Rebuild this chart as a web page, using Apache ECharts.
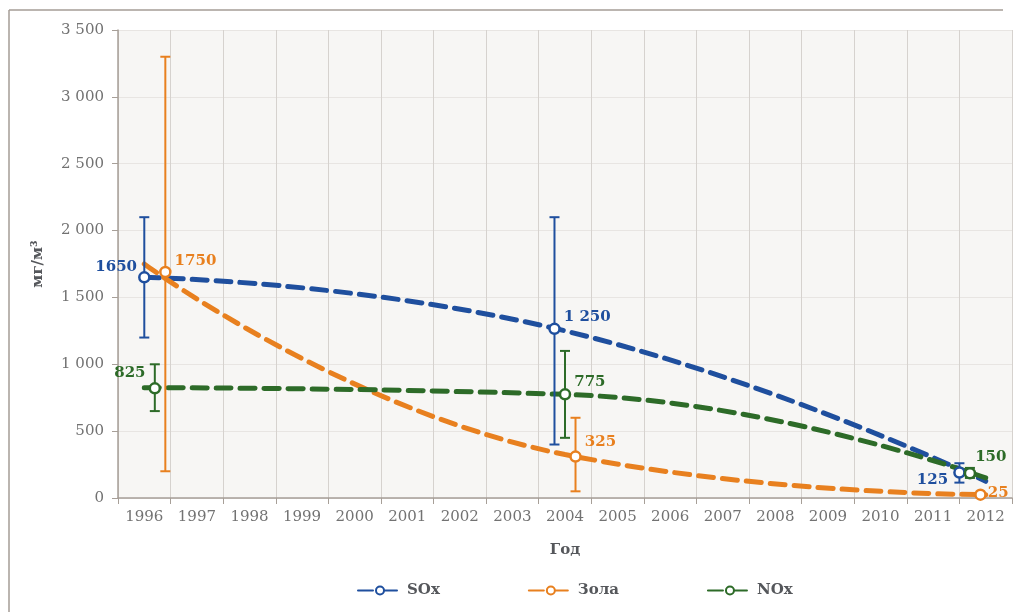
<!DOCTYPE html>
<html>
<head>
<meta charset="utf-8">
<script src="https://cdn.jsdelivr.net/npm/echarts@6/dist/echarts.min.js"></script>
<style>
  html, body { margin: 0; padding: 0; background: #fff; }
  #main { width: 1017px; height: 612px; }
</style>
</head>
<body>
<div id="main"></div>
<script>
// годы по оси X
var years = ["1996", "1997", "1998", "1999", "2000", "2001", "2002", "2003", "2004",
  "2005", "2006", "2007", "2008", "2009", "2010", "2011", "2012"];
var yTicks = [0, 500, 1000, 1500, 2000, 2500, 3000, 3500];

// линии (центры категорий)
var lineYears = [1996, 2004, 2012];
var soxLine = [1650, 1250, 125];
var zolaLine = [1750, 325, 25];
var noxLine = [825, 775, 150];

// маркеры с погрешностями (смещены внутри категории)
var soxX = [1996.0, 2003.8, 2011.5];
var soxY = [1650, 1265, 190];
var soxLow = [1200, 400, 115];
var soxHigh = [2100, 2100, 260];

var zolaX = [1996.4, 2004.2, 2011.9];
var zolaY = [1690, 310, 25];
var zolaLow = [200, 50, 15];
var zolaHigh = [3300, 600, 35];

var noxX = [1996.2, 2004.0, 2011.7];
var noxY = [820, 775, 185];
var noxLow = [650, 450, 150];
var noxHigh = [1000, 1100, 225];

var soxText = ["1650", "1 250", "125"];
var zolaText = ["1750", "325", "25"];
var noxText = ["825", "775", "150"];

var C_SOX = "#1f4f9e";
var C_ZOLA = "#e8801f";
var C_NOX = "#2d6b28";
var FONT = "DejaVu Serif";

function fmt(v) {
  return String(v).replace(/\B(?=(\d{3})+(?!\d))/g, " ");
}

function pairs(xs, ys) {
  return xs.map(function (x, i) { return [x, ys[i]]; });
}

function lineSeries(name, color, ys) {
  return {
    name: name,
    type: "line",
    xAxisIndex: 1,
    smooth: 0.5,
    symbol: "emptyCircle",
    symbolSize: 9,
    showSymbol: false,
    silent: true,
    z: 2,
    itemStyle: { color: color, borderWidth: 2.5 },
    lineStyle: { color: color, width: 5, type: [15, 9], cap: "round" },
    data: pairs(lineYears, ys),
  };
}

function errSeries(color, xs, lows, highs) {
  return {
    type: "custom",
    xAxisIndex: 1,
    silent: true,
    z: 3,
    data: xs.map(function (x, i) { return [x, lows[i], highs[i]]; }),
    renderItem: function (params, api) {
      var lo = api.coord([api.value(0), api.value(1)]);
      var hi = api.coord([api.value(0), api.value(2)]);
      var w = 5;
      var st = { stroke: color, lineWidth: 2 };
      return {
        type: "group",
        children: [
          { type: "line", shape: { x1: lo[0], y1: lo[1], x2: hi[0], y2: hi[1] }, style: st },
          { type: "line", shape: { x1: lo[0] - w, y1: lo[1], x2: lo[0] + w, y2: lo[1] }, style: st },
          { type: "line", shape: { x1: hi[0] - w, y1: hi[1], x2: hi[0] + w, y2: hi[1] }, style: st },
        ],
      };
    },
  };
}

function markSeries(color, xs, ys, texts, labelCfg) {
  return {
    type: "scatter",
    xAxisIndex: 1,
    symbol: "circle",
    symbolSize: 10,
    silent: true,
    z: 4,
    itemStyle: { color: "#ffffff", borderColor: color, borderWidth: 2.5, opacity: 1 },
    data: xs.map(function (x, i) {
      return {
        value: [x, ys[i]],
        label: {
          show: true,
          formatter: texts[i],
          position: labelCfg[i].pos,
          offset: labelCfg[i].off,
          color: color,
          fontFamily: FONT,
          fontWeight: "bold",
          fontSize: 15,
          distance: 3,
        },
      };
    }),
  };
}

var chart = echarts.init(document.getElementById("main"));
chart.setOption({
  backgroundColor: "#fff",
  animation: false,
  grid: {
    left: 118,
    right: 5,
    top: 30,
    bottom: 114,
    show: true,
    backgroundColor: "#f7f6f4",
    borderWidth: 0,
  },
  graphic: [
    { type: "line", shape: { x1: 9, y1: 10, x2: 1003, y2: 10 }, style: { stroke: "#a59d96", lineWidth: 1.5 } },
    { type: "line", shape: { x1: 9, y1: 10, x2: 9, y2: 612 }, style: { stroke: "#a59d96", lineWidth: 1.5 } },
  ],
  legend: {
    left: 352,
    top: 578,
    itemGap: 88,
    itemWidth: 44,
    itemHeight: 10,
    textStyle: { fontFamily: FONT, fontWeight: "bold", fontSize: 15, color: "#55575b" },
    data: ["SOx", "Зола", "NOx"],
  },
  xAxis: [
    {
      type: "category",
      data: years,
      boundaryGap: true,
      name: "Год",
      nameLocation: "middle",
      nameGap: 45,
      nameTextStyle: { fontFamily: FONT, fontWeight: "bold", fontSize: 15, color: "#55575b" },
      axisLine: { lineStyle: { color: "#a79f98", width: 1.5 } },
      axisTick: { show: true, interval: 0, length: 6, lineStyle: { color: "#a79f98" } },
      axisLabel: { interval: 0, fontFamily: FONT, fontSize: 15, color: "#727272", margin: 12 },
      splitLine: { show: true, interval: 0, lineStyle: { color: "#d6d2ce", width: 1 } },
    },
    {
      type: "value",
      min: 1995.5,
      max: 2012.5,
      show: false,
      splitLine: { show: false },
    },
  ],
  yAxis: {
    type: "value",
    min: 0,
    max: 3500,
    interval: 500,
    name: "мг/м³",
    nameLocation: "middle",
    nameGap: 72,
    nameRotate: 90,
    nameTextStyle: { fontFamily: FONT, fontWeight: "bold", fontSize: 15, color: "#55575b" },
    axisLine: { show: true, lineStyle: { color: "#a79f98", width: 1.5 } },
    axisTick: { show: true, length: 6, lineStyle: { color: "#a79f98" } },
    axisLabel: {
      fontFamily: FONT,
      fontSize: 15,
      color: "#727272",
      margin: 14,
      formatter: function (v) { return yTicks.indexOf(v) >= 0 ? fmt(v) : ""; },
    },
    splitLine: { show: true, lineStyle: { color: "#e8e5e2", width: 1 } },
  },
  series: [
    lineSeries("SOx", C_SOX, soxLine),
    lineSeries("Зола", C_ZOLA, zolaLine),
    lineSeries("NOx", C_NOX, noxLine),
    errSeries(C_SOX, soxX, soxLow, soxHigh),
    errSeries(C_ZOLA, zolaX, zolaLow, zolaHigh),
    errSeries(C_NOX, noxX, noxLow, noxHigh),
    markSeries(C_SOX, soxX, soxY, soxText, [
      { pos: "left", off: [2, -10] },
      { pos: "right", off: [0, -12] },
      { pos: "left", off: [-2, 8] },
    ]),
    markSeries(C_ZOLA, zolaX, zolaY, zolaText, [
      { pos: "right", off: [0, -11] },
      { pos: "right", off: [0, -14] },
      { pos: "right", off: [-2, -2] },
    ]),
    markSeries(C_NOX, noxX, noxY, noxText, [
      { pos: "left", off: [0, -15] },
      { pos: "right", off: [0, -12] },
      { pos: "right", off: [-4, -16] },
    ]),
  ],
});
</script>
</body>
</html>
